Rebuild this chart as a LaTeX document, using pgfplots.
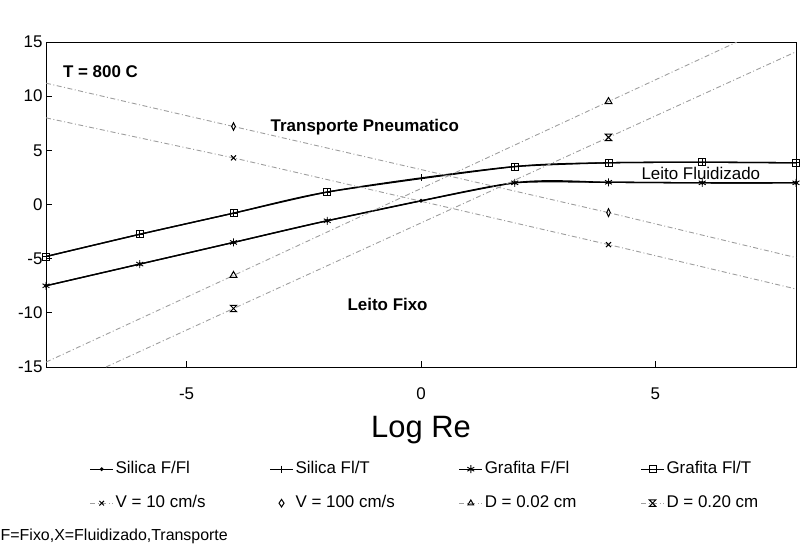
\documentclass[border=0pt]{standalone}
\usepackage{fontspec}
\setmainfont{Liberation Sans}
\usepackage{pgfplots}
\pgfplotsset{compat=1.18}
\pgfdeclareplotmark{hourglass}{%
  \pgfpathmoveto{\pgfqpoint{-\pgfplotmarksize}{\pgfplotmarksize}}%
  \pgfpathlineto{\pgfqpoint{\pgfplotmarksize}{\pgfplotmarksize}}%
  \pgfpathlineto{\pgfqpoint{-\pgfplotmarksize}{-\pgfplotmarksize}}%
  \pgfpathlineto{\pgfqpoint{\pgfplotmarksize}{-\pgfplotmarksize}}%
  \pgfpathclose
  \pgfusepathqstroke}
\definecolor{lgray}{gray}{0.62}
\tikzset{gdash/.style={lgray, line width=0.9bp, dash pattern=on 5bp off 2.5bp on 1bp off 2.5bp}}
\pgfplotsset{glegend/.style={legend image code/.code={%
  \draw[gdash] (0cm,0cm) -- (0.8cm,0cm);
  \begin{scope}[shift={(0.4cm,0cm)}]
  \pgfsetdash{}{0pt}\pgfsetlinewidth{1bp}\pgfsetstrokecolor{black}\pgfsetplotmarksize{3.2bp}%
  \pgfuseplotmark{#1}%
  \end{scope}}}}
\begin{document}
\begin{tikzpicture}
\path[use as bounding box] (-46bp,-184bp) rectangle (756bp,367bp);
\begin{axis}[
  at={(0,0)}, anchor=south west,
  scale only axis, width=750bp, height=325bp,
  xmin=-8, xmax=8, ymin=-15, ymax=15,
  xtick={-5,0,5}, ytick={-15,-10,...,15},
  tick pos=left, tick align=inside, major tick length=6bp,
  /pgf/number format/assume math mode=true,
  ticklabel style={font=\fontsize{17}{20}\selectfont},
  xticklabel style={anchor=base, yshift=-32bp},
  axis line style={line width=1bp},
  tick style={line width=0.8bp, black},
  xlabel={Log Re},
  xlabel style={at={(axis description cs:0.5,0)}, anchor=base, yshift=-70bp, font=\fontsize{31}{36}\selectfont},
  legend columns=4,
  legend cell align=left,
  legend image code/.code={\draw[mark repeat=2,mark phase=2,#1] plot coordinates {(0cm,0cm) (0.4cm,0cm) (0.8cm,0cm)};},
  legend style={draw=none, fill=none, at={(0.5,0)}, anchor=north, xshift=4bp, yshift=-90bp,
    font=\fontsize{17}{20}\selectfont, row sep=14bp,
    nodes={text height=12bp, text depth=4bp},
    /tikz/every even column/.append style={column sep=62bp}},
]
% Silica F/Fl
\addplot[black, line width=1.3bp, smooth, tension=0.4, mark=*, mark size=1.2bp] coordinates {
 (-8,-7.5) (-6,-5.5) (-4,-3.5) (-2,-1.5) (0,0.35) (2,2.0) (4,2.05) (6,2.0) (8,2.0)};
\addlegendentry{Silica F/Fl}
% Silica Fl/T
\addplot[black, line width=1.3bp, smooth, tension=0.4, mark=+, mark size=3.5bp, mark options={line width=0.8bp}] coordinates {
 (-8,-4.8) (-6,-2.75) (-4,-0.8) (-2,1.15) (0,2.45) (2,3.5) (4,3.85) (6,3.9) (8,3.85)};
\addlegendentry{Silica Fl/T}
% Grafita F/Fl
\addplot[black, line width=1.3bp, smooth, tension=0.4, mark=asterisk, mark size=4bp, mark options={line width=0.9bp}] coordinates {
 (-8,-7.5) (-6,-5.5) (-4,-3.5) (-2,-1.5) (2,2.0) (4,2.05) (6,2.0) (8,2.0)};
\addlegendentry{Grafita F/Fl}
% Grafita Fl/T
\addplot[black, line width=1.3bp, smooth, tension=0.4, mark=square, mark size=3.5bp, mark options={line width=0.9bp}] coordinates {
 (-8,-4.8) (-6,-2.75) (-4,-0.8) (-2,1.15) (2,3.5) (4,3.85) (6,3.9) (8,3.85)};
\addlegendentry{Grafita Fl/T}
% V = 10 cm/s
\addplot[gdash, glegend=x, mark=x, mark size=3.5bp, mark indices={2,3}, mark options={solid, black, line width=1bp}] coordinates {
 (-8,8.0) (-4,4.3) (4,-3.7) (8,-7.8)};
\addlegendentry{V = 10 cm/s}
% V = 100 cm/s
\addplot[gdash, mark=diamond, mark size=3.8bp, mark indices={2,3}, mark options={solid, black, line width=1bp, xscale=0.65},
  legend image code/.code={\draw[black, solid, line width=1bp] (0.4cm,3.8bp) -- (0.4cm+2.5bp,0bp) -- (0.4cm,-3.8bp) -- (0.4cm-2.5bp,0bp) -- cycle;}] coordinates {
 (-8,11.2) (-4,7.2) (4,-0.75) (8,-4.9)};
\addlegendentry{V = 100 cm/s}
% D = 0.02 cm
\addplot[gdash, glegend=triangle, mark=triangle, mark size=4bp, mark indices={2,3}, mark options={solid, black, line width=1bp}] coordinates {
 (-8,-14.55) (-4,-6.55) (4,9.5) (6.74,15)};
\addlegendentry{D = 0.02 cm}
% D = 0.20 cm
\addplot[gdash, glegend=hourglass, mark=hourglass, mark size=3.2bp, mark indices={2,3}, mark options={solid, black, line width=1bp}] coordinates {
 (-6.72,-15) (-4,-9.6) (4,6.2) (8,14.1)};
\addlegendentry{D = 0.20 cm}

\node[anchor=base west, inner sep=0, font=\fontsize{18}{21}\selectfont] at (rel axis cs:0,1) [xshift=-2bp, yshift=12bp] {Log Fr};
\node[anchor=base west, inner sep=0, font=\fontsize{17}{20}\selectfont\bfseries] at (axis cs:-7.64,11.73) {T = 800 C};
\node[anchor=base west, inner sep=0, font=\fontsize{17}{20}\selectfont\bfseries] at (axis cs:-3.21,6.74) {Transporte Pneumatico};
\node[anchor=base west, inner sep=0, font=\fontsize{17}{20}\selectfont\bfseries] at (axis cs:-1.57,-9.8) {Leito Fixo};
\node[anchor=base west, inner sep=0, font=\fontsize{17}{20}\selectfont] at (axis cs:4.70,2.3) {Leito Fluidizado};
\end{axis}
\node[anchor=base west, inner sep=0, font=\fontsize{16}{19}\selectfont] at (-45.5bp,-173bp) {F=Fixo,X=Fluidizado,Transporte};
\end{tikzpicture}
\end{document}
